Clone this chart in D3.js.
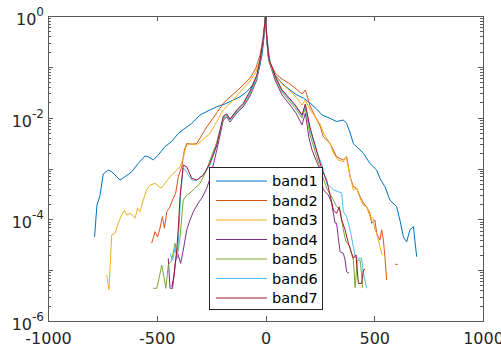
<!DOCTYPE html>
<html>
<head>
<meta charset="utf-8">
<script src="https://cdn.jsdelivr.net/npm/d3@7"></script>
<style>
  body { margin: 0; background: #fff; }
  svg { display: block; font-family: "DejaVu Sans", sans-serif; }
</style>
</head>
<body>
<div id="chart"></div>
<script>
const bandNames = ["band1", "band2", "band3", "band4", "band5", "band6", "band7"];
const bandColors = ["#0072BD", "#D95319", "#EDB120", "#7E2F8E", "#77AC30", "#4DBEEE", "#A2142F"];
const xTicks = [-1000, -500, 0, 500, 1000];
const yLabelExps = [0, -2, -4, -6];

const band1X = [-786,-775,-761,-746,-723,-707,-687,-669,-646,-615,-585,-554,-539,-516,-493,-462,-431,-401,-370,-339,-301,-255,-224,-186,-148,-117,-86,-62,-40,-25,-14,-6,0,
  6,14,21,44,76,113,145,174,205,235,260,297,327,358,373,388,404,425,450,480,511,526,549,572,603,618,634,649,664,680,695];
const band1Y = [4.5e-5,1.9e-4,2.9e-4,7.8e-4,9.3e-4,8.6e-4,7.1e-4,5.9e-4,6.9e-4,8.6e-4,1.26e-3,1.76e-3,1.7e-3,1.47e-3,1.84e-3,2.7e-3,3.4e-3,4.9e-3,6.2e-3,7.7e-3,1.13e-2,1.42e-2,1.64e-2,1.86e-2,2.22e-2,2.58e-2,3.24e-2,4.2e-2,6.4e-2,0.109,0.196,0.42,1,
  0.42,0.196,0.117,0.069,0.0474,0.035,0.0279,0.0244,0.0194,0.0148,0.0113,0.0097,0.0084,0.009,0.0077,0.0052,0.0031,0.00253,0.002,0.00126,0.00093,0.00064,0.00044,0.00024,1.77e-4,9.7e-5,4.5e-5,3.6e-5,6.2e-5,7.2e-5,1.84e-5];

const band2X = [-523,-508,-496,-485,-474,-465,-454,-439,-424,-413,-401,-385,-373,-362,-339,-316,-270,-224,-194,-163,-117,-71,-44,-25,-11,0,
  6,15,45,76,107,136,168,183,205,229,251,266,297,312,327,358,373,389,404,419,435,450,465,480,488,503,511,526,534,542,549,557,577,597,608];
const band2Y = [3.4e-5,5.7e-5,4.5e-5,6.7e-5,1.13e-4,6.7e-5,1.41e-4,1.77e-4,2.6e-4,3.3e-4,6.9e-4,1.08e-3,2.3e-3,3.1e-3,3.0e-3,3.1e-3,6.6e-3,1.24e-2,1.92e-2,2.55e-2,3.83e-2,0.06,0.095,0.171,0.37,1,
  0.37,0.136,0.0746,0.0576,0.0474,0.0383,0.0292,0.035,0.017,0.0104,0.00686,0.0042,0.0031,0.0023,0.0017,0.00147,0.0017,6.9e-4,4.4e-4,4.1e-4,2.8e-4,2.1e-4,1.77e-4,1.31e-4,8.4e-5,9.7e-5,5.3e-5,3.9e-5,6.2e-5,3.9e-5,1.84e-5,6.4e-6,null,1.3e-5,1.3e-5];

const band3X = [-730,-720,-707,-692,-677,-661,-649,-638,-623,-612,-600,-588,-577,-562,-546,-531,-508,-480,-462,-439,-416,-393,-378,-366,-348,-316,-255,-194,-148,-117,-71,-44,-25,-11,0,
  6,15,45,76,107,136,168,183,205,229,251,266,297,312,334,358,370,381,389,404,419,435,450,465,480,494,503,511,526,537];
const band3Y = [8.0e-6,4.1e-6,4.9e-5,5.3e-5,8.4e-5,1.22e-4,1.48e-4,1.22e-4,1.31e-4,1.22e-4,1.05e-4,1.65e-4,1.41e-4,2.4e-4,3.8e-4,4.7e-4,5.1e-4,4.1e-4,5.1e-4,6.9e-4,8.6e-4,1.08e-3,1.59e-3,2.7e-3,3.1e-3,2.9e-3,4.9e-3,1.42e-2,2.22e-2,0.032,0.0526,0.079,0.136,0.337,1,
  0.337,0.124,0.066,0.046,0.035,0.0267,0.0177,0.0222,0.0142,0.0104,0.0075,0.005,0.0031,0.002,0.00147,0.00136,0.0017,0.00108,6.9e-4,3.8e-4,4.1e-4,2.6e-4,1.9e-4,1.77e-4,1.13e-4,1.06e-4,6.2e-5,5.3e-5,2.9e-5,1.99e-5];

const band4X = [-447,-439,-427,-416,-406,-390,-378,-362,-347,-332,-309,-293,-270,-255,-224,-194,-178,-163,-132,-102,-71,-40,-25,-10,0,
  6,15,44,76,113,140,168,183,200,214,245,266,289,304,320,327,335,343,358,366,373,384];
const band4Y = [1.71e-5,4.4e-6,4.4e-6,1.26e-5,2.3e-5,1.36e-5,2.5e-5,6.2e-5,9.7e-5,1.41e-4,2.1e-4,2.6e-4,4.1e-4,6.4e-4,2.3e-3,9.0e-3,1.03e-2,8.2e-3,1.24e-2,1.64e-2,0.0267,0.055,0.119,0.337,1,
  0.337,0.136,0.055,0.0279,0.0177,0.0124,0.0072,0.0122,0.004,0.0023,0.00108,3.8e-4,3.0e-4,2.1e-4,8.4e-5,8.4e-5,4.3e-5,2.3e-5,2.14e-5,1.58e-5,9.3e-6,8.7e-6];

const band5X = [-516,-500,-488,-477,-467,-458,-447,-431,-416,-408,-401,-393,-378,-362,-347,-324,-301,-270,-255,-224,-194,-178,-163,-132,-102,-71,-40,-25,-10,0,
  6,15,44,76,113,140,168,183,205,229,260,281,312,327,343,358,370,385,404,412,422,435,442,447];
const band5Y = [4.4e-6,4.4e-6,7.4e-6,1.26e-5,7.4e-6,4.4e-6,1.26e-5,1.58e-5,3.4e-5,1.99e-5,2.5e-5,4.5e-5,2.4e-4,3.0e-4,3.3e-4,4.1e-4,5.1e-4,9.3e-4,1.47e-3,3.3e-3,9.8e-3,1.08e-2,9.0e-3,1.29e-2,1.77e-2,0.0292,0.06,0.124,0.337,1,
  0.337,0.136,0.06,0.032,0.0203,0.0148,0.0098,0.0155,0.00456,0.0021,7.4e-4,4.1e-4,2.4e-4,1.77e-4,1.52e-4,6.2e-5,3.6e-5,3.1e-5,1.58e-5,4.5e-6,1.58e-5,1.58e-5,8.0e-6,4.5e-6];

const band6X = [-439,-427,-416,-406,-398,-389,-378,-362,-355,-338,-316,-301,-286,-255,-224,-194,-178,-163,-132,-102,-71,-40,-25,-10,0,
  6,15,44,76,113,140,168,183,205,229,260,281,312,334,350,358,373,389,404,412,427,442,450,465];
const band6Y = [2.14e-5,1.58e-5,2.7e-5,1.71e-5,6.2e-5,3.8e-4,1.02e-3,8.5e-4,7.4e-4,5.9e-4,5.9e-4,6.8e-4,7.4e-4,1.17e-3,2.8e-3,1.03e-2,1.13e-2,9.0e-3,1.35e-2,1.86e-2,0.0306,0.063,0.13,0.353,1,
  0.353,0.143,0.063,0.0335,0.0222,0.0162,0.0108,0.017,0.0057,0.00253,0.00117,5.1e-4,3.8e-4,3.5e-4,3.3e-4,1.41e-4,1.13e-4,6.2e-5,2.9e-5,1.84e-5,1.71e-5,1.71e-5,8.7e-6,4.4e-6];

const band7X = [-431,-421,-408,-400,-393,-378,-362,-339,-316,-286,-255,-224,-194,-178,-163,-132,-102,-71,-40,-25,-10,0,
  6,15,44,76,113,140,168,183,205,229,260,281,297,312,327,339,350,366,381,396,404,416,427,442,450,458];
const band7Y = [4.7e-6,7.4e-6,2.5e-5,7.7e-5,2.8e-4,1.17e-3,1.08e-3,6.4e-4,5.9e-4,7.4e-4,1.28e-3,2.9e-3,1.08e-2,1.18e-2,9.4e-3,1.42e-2,1.92e-2,0.0335,0.069,0.136,0.37,1,
  0.37,0.149,0.066,0.035,0.0233,0.017,0.0113,0.0186,0.0063,0.0028,9.3e-4,5.9e-4,3.0e-4,1.52e-4,1.31e-4,1.77e-4,9.7e-5,6.2e-5,3.4e-5,2.14e-5,1.71e-5,1.99e-5,5.5e-6,5.5e-6,1.0e-5,1.05e-5];

const bandX = [band1X, band2X, band3X, band4X, band5X, band6X, band7X];
const bandY = [band1Y, band2Y, band3Y, band4Y, band5Y, band6Y, band7Y];

const width = 501, height = 348;
const margin = {top: 16, right: 18, bottom: 27, left: 48};
const axisColor = "#5a5a5a";

const svg = d3.select("#chart").append("svg")
  .attr("width", width)
  .attr("height", height);

const x = d3.scaleLinear()
  .domain([-1000, 1000])
  .range([margin.left, width - margin.right]);

const y = d3.scaleLog()
  .domain([1e-6, 1])
  .range([height - margin.bottom, margin.top]);

svg.append("clipPath").attr("id", "plot-clip")
  .append("rect")
  .attr("x", margin.left).attr("y", margin.top)
  .attr("width", x.range()[1] - margin.left)
  .attr("height", y.range()[0] - margin.top);

// series lines
const line = d3.line()
  .defined(d => d[1] != null)
  .x(d => x(d[0]))
  .y(d => y(d[1]));

const lines = svg.append("g").attr("clip-path", "url(#plot-clip)");
bandNames.forEach((name, i) => {
  const pts = bandX[i].map((v, j) => [v, bandY[i][j]]);
  lines.append("path")
    .datum(pts)
    .attr("fill", "none")
    .attr("stroke", bandColors[i])
    .attr("stroke-width", 1)
    .attr("stroke-linejoin", "round")
    .attr("d", line);
});

// minor + major log ticks
const minorTicks = [];
for (let e = -6; e < 0; e++) {
  for (let m = 2; m <= 9; m++) minorTicks.push(m * Math.pow(10, e));
}
const majorTicks = [1e-6, 1e-5, 1e-4, 1e-3, 1e-2, 1e-1, 1];

const axes = svg.append("g").attr("shape-rendering", "crispEdges");

function styleAxis(g) {
  g.select(".domain").remove();
  g.selectAll(".tick line").attr("stroke", axisColor);
  g.selectAll(".tick text").attr("fill", "#262626");
}

// x axis bottom and top
axes.append("g")
  .attr("transform", `translate(0,${y.range()[0]})`)
  .call(d3.axisBottom(x).tickValues(xTicks).tickSizeInner(-5).tickSizeOuter(0)
    .tickPadding(12).tickFormat(d => String(d)))
  .call(styleAxis)
  .call(g => g.selectAll(".tick text").attr("font-size", 16).attr("font-family", "DejaVu Sans"));

axes.append("g")
  .attr("transform", `translate(0,${margin.top})`)
  .call(d3.axisTop(x).tickValues(xTicks).tickSizeInner(-5).tickSizeOuter(0).tickFormat(""))
  .call(styleAxis);

// y axes left and right
[[d3.axisLeft, margin.left], [d3.axisRight, x.range()[1]]].forEach(([ax, pos]) => {
  axes.append("g")
    .attr("transform", `translate(${pos},0)`)
    .call(ax(y).tickValues(minorTicks).tickSizeInner(-3).tickSizeOuter(0).tickFormat(""))
    .call(styleAxis);
  axes.append("g")
    .attr("transform", `translate(${pos},0)`)
    .call(ax(y).tickValues(majorTicks).tickSizeInner(-5).tickSizeOuter(0).tickFormat(""))
    .call(styleAxis);
});

// box
axes.append("rect")
  .attr("x", margin.left + 0.5).attr("y", margin.top + 0.5)
  .attr("width", x.range()[1] - margin.left)
  .attr("height", y.range()[0] - margin.top)
  .attr("fill", "none")
  .attr("stroke", axisColor);

// y labels with superscripts
const yLab = svg.append("g").attr("fill", "#262626");
yLabelExps.forEach(e => {
  const t = yLab.append("text")
    .attr("x", margin.left - 4)
    .attr("y", y(Math.pow(10, e)) + 9)
    .attr("text-anchor", "end");
  t.append("tspan").attr("font-size", 16).text("10");
  t.append("tspan").attr("font-size", 12).attr("dy", -9).text(String(e));
});

// legend
const legend = svg.append("g");
legend.append("rect")
  .attr("x", 209.5).attr("y", 167.5)
  .attr("width", 113).attr("height", 142)
  .attr("fill", "#fff")
  .attr("stroke", "#262626")
  .attr("stroke-width", 1);

bandNames.forEach((name, i) => {
  const cy = 181 + i * 19.5;
  legend.append("line")
    .attr("x1", 216).attr("x2", 267)
    .attr("y1", cy).attr("y2", cy)
    .attr("stroke", bandColors[i])
    .attr("stroke-width", 1);
  legend.append("text")
    .attr("x", 272).attr("y", cy + 5)
    .attr("font-size", 14.5)
    .attr("fill", "#000")
    .text(name);
});
</script>
</body>
</html>
